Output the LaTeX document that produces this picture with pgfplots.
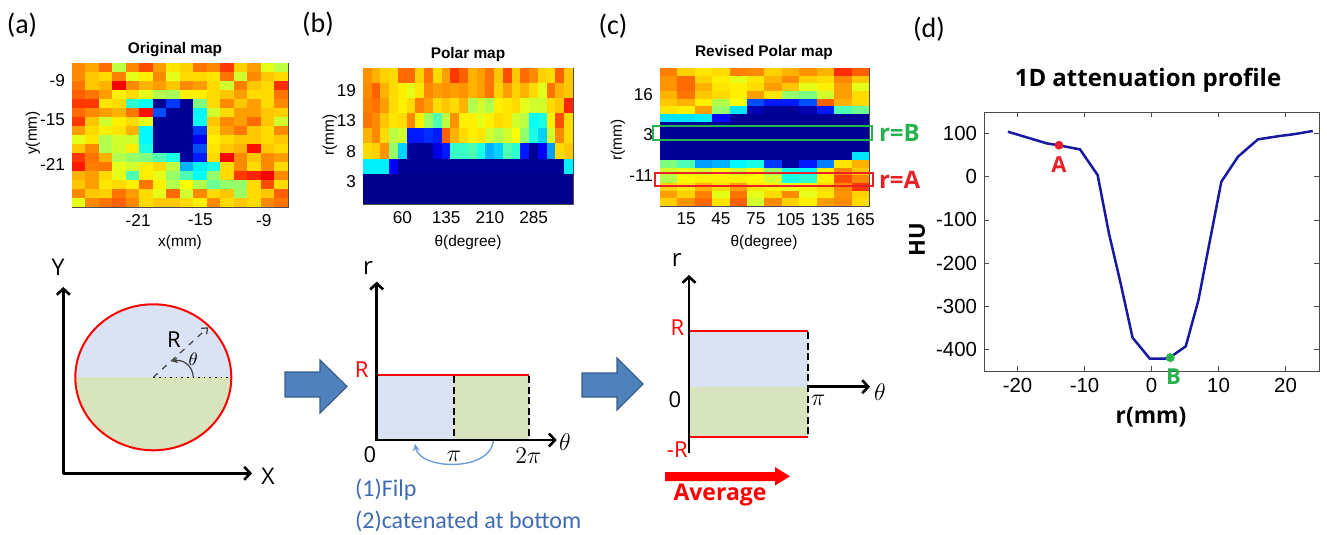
\documentclass[border=0pt]{standalone}
\usepackage{fontspec}
\setmainfont{Liberation Sans}
\newfontfamily\os{Open Sans}
\newfontfamily\calfont{Carlito}
\usepackage{pgfplots}
\pgfplotsset{compat=1.18}
\usetikzlibrary{arrows.meta}
\definecolor{lb}{RGB}{218,227,243}
\definecolor{lg}{RGB}{215,228,189}
\definecolor{barrow}{RGB}{79,129,189}
\definecolor{barrowd}{RGB}{56,93,138}
\definecolor{txtblue}{RGB}{62,108,178}
\definecolor{carrow}{RGB}{110,158,212}
\definecolor{mgreen}{RGB}{38,178,76}
\definecolor{mred}{RGB}{232,32,40}
\definecolor{hublue}{RGB}{24,24,160}
\newcommand\fs[1]{\fontsize{#1}{#1}\selectfont}
\pgfdeclareplotmark{cella}{\pgfpathrectanglecorners{\pgfqpoint{-3.42pt}{-2.29pt}}{\pgfqpoint{3.42pt}{2.29pt}}\pgfusepathqfill}
\pgfdeclareplotmark{cellb}{\pgfpathrectanglecorners{\pgfqpoint{-2.22pt}{-3.81pt}}{\pgfqpoint{2.22pt}{3.81pt}}\pgfusepathqfill}
\pgfdeclareplotmark{cellc}{\pgfpathrectanglecorners{\pgfqpoint{-4.39pt}{-1.95pt}}{\pgfqpoint{4.39pt}{1.95pt}}\pgfusepathqfill}
\pgfplotsset{hm/.style={scale only axis, enlargelimits=false, axis on top,
  colormap/jet, point meta min=0, point meta max=1, y dir=reverse,
  tick align=inside, major tick length=1.8pt,
  axis line style={gray!60!black, line width=0.4pt},
  tick style={gray!60!black, line width=0.4pt},
  tick label style={font=\fs{8.6}}}}
\begin{document}
\begin{tikzpicture}
\useasboundingbox (0,0) rectangle (663.5pt,-267.5pt);
% (a) original map
\begin{axis}[hm, at={(90pt,-67.5pt)}, anchor=center, width=108pt, height=72pt,
  xmin=-0.5, xmax=15.5, ymin=-0.5, ymax=15.5,
  xtick={4.4,9.0,13.7}, xticklabels={-21,-15,-9},
  ytick={1.4,5.85,10.8}, yticklabels={-9,-15,-21}]
\addplot[scatter, only marks, mark=cella, point meta=\thisrowno{0}]
 table[header=false, row sep=\\, x expr={\coordindex-16*floor((\coordindex+0.5)/16)}, y expr={floor((\coordindex+0.5)/16)}] {
0.74\\0.71\\0.77\\0.56\\0.74\\0.80\\0.72\\0.65\\0.67\\0.76\\0.74\\0.82\\0.67\\0.72\\0.60\\0.56\\
0.74\\0.68\\0.66\\0.75\\0.60\\0.64\\0.74\\0.60\\0.66\\0.66\\0.65\\0.76\\0.58\\0.74\\0.68\\0.66\\
0.76\\0.68\\0.70\\0.88\\0.74\\0.70\\0.72\\0.68\\0.74\\0.72\\0.66\\0.58\\0.75\\0.68\\0.66\\0.83\\
0.78\\0.76\\0.72\\0.64\\0.66\\0.60\\0.55\\0.54\\0.64\\0.64\\0.66\\0.68\\0.72\\0.66\\0.66\\0.76\\
0.82\\0.82\\0.65\\0.66\\0.42\\0.38\\0.02\\0.18\\0.02\\0.50\\0.66\\0.74\\0.68\\0.72\\0.66\\0.74\\
0.77\\0.74\\0.72\\0.70\\0.76\\0.86\\0.20\\0.02\\0.02\\0.37\\0.58\\0.66\\0.72\\0.72\\0.68\\0.67\\
0.82\\0.68\\0.58\\0.64\\0.66\\0.60\\0.02\\0.02\\0.02\\0.38\\0.68\\0.74\\0.72\\0.77\\0.68\\0.58\\
0.72\\0.66\\0.64\\0.65\\0.70\\0.37\\0.02\\0.02\\0.02\\0.18\\0.66\\0.72\\0.76\\0.68\\0.66\\0.74\\
0.60\\0.65\\0.55\\0.58\\0.58\\0.37\\0.02\\0.02\\0.02\\0.12\\0.64\\0.66\\0.68\\0.68\\0.66\\0.68\\
0.68\\0.74\\0.55\\0.58\\0.64\\0.40\\0.02\\0.02\\0.02\\0.20\\0.65\\0.68\\0.70\\0.86\\0.68\\0.66\\
0.82\\0.76\\0.70\\0.55\\0.52\\0.50\\0.45\\0.40\\0.03\\0.15\\0.66\\0.88\\0.74\\0.68\\0.74\\0.72\\
0.85\\0.75\\0.76\\0.60\\0.58\\0.64\\0.66\\0.56\\0.30\\0.36\\0.40\\0.66\\0.74\\0.66\\0.74\\0.66\\
0.70\\0.72\\0.66\\0.60\\0.45\\0.64\\0.60\\0.52\\0.45\\0.38\\0.52\\0.66\\0.82\\0.84\\0.88\\0.74\\
0.68\\0.72\\0.65\\0.66\\0.64\\0.76\\0.64\\0.55\\0.62\\0.55\\0.48\\0.52\\0.52\\0.66\\0.80\\0.66\\
0.74\\0.68\\0.67\\0.76\\0.72\\0.66\\0.60\\0.77\\0.58\\0.74\\0.66\\0.68\\0.53\\0.66\\0.68\\0.78\\
0.60\\0.74\\0.76\\0.78\\0.74\\0.66\\0.68\\0.68\\0.66\\0.64\\0.74\\0.66\\0.68\\0.66\\0.74\\0.76\\
};
\end{axis}
% (b) polar map
\begin{axis}[hm, at={(234pt,-68pt)}, anchor=center, width=105pt, height=68pt,
  xmin=-0.5, xmax=23.5, ymin=-0.5, ymax=8.5,
  xtick={4,9,14,19}, xticklabels={60,135,210,285},
  ytick={1,3,5,7}, yticklabels={19,13,8,3}]
\addplot[scatter, only marks, mark=cellb, point meta=\thisrowno{0}]
 table[header=false, row sep=\\, x expr={\coordindex-24*floor((\coordindex+0.5)/24)}, y expr={floor((\coordindex+0.5)/24)}] {
0.73\\0.70\\0.67\\0.66\\0.77\\0.77\\0.67\\0.76\\0.66\\0.72\\0.82\\0.78\\0.70\\0.72\\0.76\\0.68\\0.80\\0.68\\0.77\\0.74\\0.67\\0.66\\0.78\\0.68\\
0.74\\0.78\\0.70\\0.66\\0.64\\0.60\\0.65\\0.74\\0.72\\0.73\\0.72\\0.73\\0.70\\0.72\\0.76\\0.67\\0.72\\0.67\\0.70\\0.66\\0.60\\0.76\\0.70\\0.68\\
0.75\\0.76\\0.72\\0.66\\0.64\\0.66\\0.75\\0.72\\0.66\\0.68\\0.66\\0.70\\0.55\\0.58\\0.55\\0.64\\0.65\\0.66\\0.60\\0.58\\0.58\\0.66\\0.68\\0.84\\
0.76\\0.74\\0.68\\0.65\\0.66\\0.74\\0.64\\0.53\\0.45\\0.56\\0.73\\0.64\\0.64\\0.60\\0.64\\0.66\\0.65\\0.58\\0.56\\0.38\\0.40\\0.64\\0.80\\0.66\\
0.70\\0.74\\0.66\\0.56\\0.58\\0.15\\0.15\\0.17\\0.15\\0.78\\0.70\\0.66\\0.64\\0.65\\0.58\\0.55\\0.58\\0.62\\0.52\\0.40\\0.33\\0.58\\0.74\\0.66\\
0.66\\0.67\\0.73\\0.52\\0.33\\0.03\\0.02\\0.02\\0.10\\0.15\\0.43\\0.43\\0.45\\0.40\\0.30\\0.33\\0.45\\0.42\\0.15\\0.02\\0.12\\0.28\\0.66\\0.68\\
0.36\\0.36\\0.36\\0.12\\0.02\\0.02\\0.02\\0.02\\0.02\\0.02\\0.02\\0.02\\0.02\\0.02\\0.02\\0.02\\0.02\\0.02\\0.02\\0.02\\0.02\\0.02\\0.02\\0.36\\
0.01\\0.01\\0.01\\0.01\\0.01\\0.01\\0.01\\0.01\\0.01\\0.01\\0.01\\0.01\\0.01\\0.01\\0.01\\0.01\\0.01\\0.01\\0.01\\0.01\\0.01\\0.01\\0.01\\0.01\\
0.01\\0.01\\0.01\\0.01\\0.01\\0.01\\0.01\\0.01\\0.01\\0.01\\0.01\\0.01\\0.01\\0.01\\0.01\\0.01\\0.01\\0.01\\0.01\\0.01\\0.01\\0.01\\0.01\\0.01\\
};
\end{axis}
% (c) revised polar map
\begin{axis}[hm, at={(382.25pt,-68.5pt)}, anchor=center, width=104.5pt, height=69pt,
  xmin=-0.5, xmax=11.5, ymin=-0.5, ymax=17.5,
  xtick={1,3,5,7,9,11}, xticklabels={15,45,75,105,135,165},
  ytick={3.02,8.15,13.5}, yticklabels={16,3,-11}]
\addplot[scatter, only marks, mark=cellc, point meta=\thisrowno{0}]
 table[header=false, row sep=\\, x expr={\coordindex-12*floor((\coordindex+0.5)/12)}, y expr={floor((\coordindex+0.5)/12)}] {
0.75\\0.67\\0.65\\0.66\\0.75\\0.74\\0.67\\0.70\\0.73\\0.70\\0.83\\0.78\\
0.73\\0.77\\0.67\\0.64\\0.60\\0.65\\0.70\\0.74\\0.67\\0.66\\0.74\\0.68\\
0.73\\0.77\\0.70\\0.65\\0.64\\0.66\\0.72\\0.68\\0.60\\0.64\\0.72\\0.60\\
0.70\\0.76\\0.68\\0.66\\0.64\\0.72\\0.65\\0.52\\0.50\\0.58\\0.72\\0.66\\
0.68\\0.70\\0.64\\0.55\\0.62\\0.20\\0.15\\0.15\\0.20\\0.78\\0.70\\0.66\\
0.65\\0.64\\0.72\\0.52\\0.35\\0.05\\0.02\\0.02\\0.05\\0.15\\0.45\\0.48\\
0.35\\0.35\\0.36\\0.13\\0.02\\0.02\\0.02\\0.02\\0.02\\0.02\\0.02\\0.02\\
0.02\\0.02\\0.02\\0.02\\0.02\\0.02\\0.02\\0.02\\0.02\\0.02\\0.02\\0.02\\
0.02\\0.02\\0.02\\0.02\\0.02\\0.02\\0.02\\0.02\\0.02\\0.02\\0.02\\0.02\\
0.02\\0.02\\0.02\\0.02\\0.02\\0.02\\0.02\\0.02\\0.02\\0.02\\0.02\\0.02\\
0.02\\0.02\\0.02\\0.02\\0.02\\0.02\\0.02\\0.02\\0.02\\0.02\\0.02\\0.02\\
0.02\\0.02\\0.02\\0.02\\0.02\\0.02\\0.02\\0.02\\0.02\\0.02\\0.02\\0.35\\
0.50\\0.45\\0.28\\0.30\\0.37\\0.40\\0.18\\0.03\\0.15\\0.25\\0.65\\0.70\\
0.58\\0.60\\0.58\\0.62\\0.58\\0.62\\0.52\\0.40\\0.38\\0.64\\0.74\\0.68\\
0.55\\0.63\\0.64\\0.64\\0.64\\0.63\\0.58\\0.40\\0.42\\0.64\\0.80\\0.74\\
0.67\\0.65\\0.70\\0.66\\0.72\\0.65\\0.64\\0.60\\0.64\\0.66\\0.74\\0.82\\
0.72\\0.67\\0.75\\0.60\\0.76\\0.60\\0.66\\0.74\\0.60\\0.65\\0.73\\0.67\\
0.67\\0.73\\0.77\\0.65\\0.78\\0.58\\0.74\\0.67\\0.64\\0.72\\0.74\\0.66\\
};
\end{axis}
% (d) profile
\begin{axis}[at={(575.75pt,-120.75pt)}, anchor=center, scale only axis,
  width=167.5pt, height=129.5pt, xmin=-25, xmax=25, ymin=-450, ymax=150,
  xtick={-20,-10,0,10,20}, ytick={-400,-300,-200,-100,0,100},
  tick align=inside, major tick length=2.5pt,
  axis line style={gray!60!black, line width=0.4pt},
  tick style={gray!60!black, line width=0.4pt},
  tick label style={font=\fs{10.2}},
  /pgf/number format/assume math mode=true, clip=false]
\addplot[hublue, line width=1.25pt, point meta=none] coordinates {
(-21.44,104.4) (-15.63,77.3) (-13.80,72.7) (-10.67,63.4) (-8.04,3.9)
(-6.35,-131.5) (-4.6,-247.5) (-2.83,-372.8) (-0.25,-421.5) (1.99,-421.5)
(2.83,-417.6) (5.11,-392.9) (7.0,-286) (8.44,-170) (10.42,-11.6)
(12.9,46.4) (15.88,86.6) (19.1,94.4) (21.1,98.2) (24.07,106)};
\addplot[only marks, mark=*, mark size=2pt, mred, point meta=none] coordinates {(-13.8,73)};
\addplot[only marks, mark=*, mark size=2pt, mgreen, point meta=none] coordinates {(2.8,-419)};
\node[mred, font=\os\bfseries\fs{11}] at (axis cs:-13.8,28) {A};
\node[mgreen, font=\os\bfseries\fs{11}] at (axis cs:3.3,-464) {B};
\end{axis}
\begin{scope}[x=0.5pt,y=-0.5pt]
% panel letters
\node[font=\calfont\fs{14}] at (22,25) {(a)};
\node[font=\calfont\fs{14}] at (318,24) {(b)};
\node[font=\calfont\fs{14}] at (613,26) {(c)};
\node[font=\calfont\fs{14}] at (929,29) {(d)};
% heatmap titles and labels
\node[font=\bfseries\fs{7.7}] at (175,50) {Original map};
\node[font=\fs{7.7}] at (180,243) {x(mm)};
\node[font=\fs{7.7}, rotate=90] at (33,133) {y(mm)};
\node[font=\bfseries\fs{7.7}] at (468,55) {Polar map};
\node[font=\fs{7.7}] at (468,243) {θ(degree)};
\node[font=\fs{7.7}, rotate=90] at (330,135) {r(mm)};
\node[font=\bfseries\fs{7.7}] at (764,53) {Revised Polar map};
\node[font=\fs{7.7}] at (764,243) {θ(degree)};
\node[font=\fs{7.7}, rotate=90] at (618,140) {r(mm)};
% rectangles in (c)
\draw[mgreen, line width=1.1pt] (653,126) rectangle (872,140);
\draw[mred, line width=1.1pt] (655,173) rectangle (873,186);
\node[anchor=west, mgreen, font=\os\bfseries\fs{12}] at (872,133) {r=B};
\node[anchor=west, mred, font=\os\bfseries\fs{12}] at (872,180) {r=A};
% (d) labels
\node[font=\os\bfseries\fs{12}] at (1148,80) {1D attenuation profile};
\node[font=\os\bfseries\fs{11}, rotate=90] at (917,240) {HU};
\node[font=\os\bfseries\fs{11.4}] at (1151,417) {r(mm)};
% ---- bottom (a): circle
\begin{scope}
\clip (70,300) rectangle (240,377.3);
\fill[lb] (153.3,377.3) ellipse [x radius=78, y radius=73];
\end{scope}
\begin{scope}
\clip (70,377.3) rectangle (240,460);
\fill[lg] (153.3,377.3) ellipse [x radius=78, y radius=73];
\end{scope}
\draw[red, line width=1pt] (153.3,377.3) ellipse [x radius=78, y radius=73];
\draw[black, line width=0.8pt, dotted] (153.3,377.3) -- (230,377.3);
\draw[black!75, line width=0.6pt, dashed, -{Straight Barb[length=2.5pt,width=4pt]}] (153.3,377.3) -- (208.3,327.3);
\draw[black!75, line width=0.6pt, -{Stealth[length=3pt,width=3pt]}] (193.3,377.3) .. controls (193,366) and (183,359) .. (172,361.5);
\node[font=\os\fs{11}] at (174,340) {R};
\node[font=\fs{9.5}] at (193.3,359) {$\theta$};
\draw[line width=1.3pt, -{Straight Barb[length=3pt,width=6.5pt]}] (63.3,474) -- (63.3,287);
\draw[line width=1.3pt, -{Straight Barb[length=3pt,width=6.5pt]}] (62.5,473.3) -- (252,473.3);
\node[font=\os\fs{11.5}] at (58,267) {Y};
\node[font=\os\fs{11.5}] at (268,476) {X};
% block arrows
\filldraw[fill=barrow, draw=barrowd, line width=0.6pt] (285,372) -- (320,372) -- (320,360) -- (347,386.5) -- (320,413) -- (320,397) -- (285,397) -- cycle;
\filldraw[fill=barrow, draw=barrowd, line width=0.6pt] (582,373) -- (617,373) -- (617,358) -- (643,384) -- (617,410) -- (617,397) -- (582,397) -- cycle;
% ---- bottom (b)
\fill[lb] (376.7,375) rectangle (454,440);
\fill[lg] (454,375) rectangle (529.3,440);
\draw[red, line width=0.9pt] (376.7,375) -- (529.3,375);
\draw[black, line width=0.9pt, dash pattern=on 3.5pt off 1.8pt] (454,376) -- (454,440);
\draw[black, line width=0.9pt, dash pattern=on 3.5pt off 1.8pt] (529.3,376) -- (529.3,440);
\draw[line width=1.3pt, -{Straight Barb[length=3pt,width=6.5pt]}] (376.7,441) -- (376.7,281.7);
\draw[line width=1.3pt, -{Straight Barb[length=3pt,width=6.5pt]}] (376,440) -- (556.7,440);
\draw[carrow, line width=0.7pt, -{Stealth[length=3.5pt,width=3.5pt]}] (493.3,441) .. controls (490,472) and (420,470) .. (415,444);
\node[font=\os\fs{12}] at (368,268) {r};
\node[red, font=\os\fs{11}] at (361.7,370) {R};
\node[font=\os\fs{11}] at (370,455) {0};
\node[font=\fs{12}] at (454,456) {$\pi$};
\node[font=\fs{12}] at (528.3,456) {$2\pi$};
\node[font=\fs{13}] at (565,441.7) {$\theta$};
\node[anchor=west, txtblue, font=\calfont\fs{12}] at (348,490) {(1)Filp};
\node[anchor=west, txtblue, font=\calfont\fs{12}] at (348,521.7) {(2)catenated at bottom};
% ---- bottom (c)
\fill[lb] (689,331) rectangle (808.3,386.7);
\fill[lg] (689,386.7) rectangle (808.3,436.7);
\draw[red, line width=0.9pt] (689,331) -- (808.3,331);
\draw[red, line width=0.9pt] (689,436.7) -- (808.3,436.7);
\draw[black, line width=0.9pt, dash pattern=on 3.5pt off 1.8pt] (808.3,332) -- (808.3,436);
\draw[line width=1.3pt, -{Straight Barb[length=3pt,width=6.5pt]}] (689,453) -- (689,275);
\draw[line width=1.3pt, -{Straight Barb[length=3pt,width=6.5pt]}] (808.3,386.7) -- (870,386.7);
\node[font=\os\fs{12}] at (676.7,260) {r};
\node[red, font=\os\fs{11}] at (677.3,327.3) {R};
\node[font=\os\fs{11}] at (675,400) {0};
\node[red, font=\os\fs{11}] at (677.3,449.3) {-R};
\node[font=\fs{12}] at (818.3,400) {$\pi$};
\node[font=\fs{13}] at (880,391.7) {$\theta$};
\fill[red] (665,472) -- (775,472) -- (775,467) -- (790,476.3) -- (775,485.5) -- (775,481) -- (665,481) -- cycle;
\node[red, font=\os\bfseries\fs{11.5}] at (720,495) {Average};
\end{scope}
\end{tikzpicture}
\end{document}
